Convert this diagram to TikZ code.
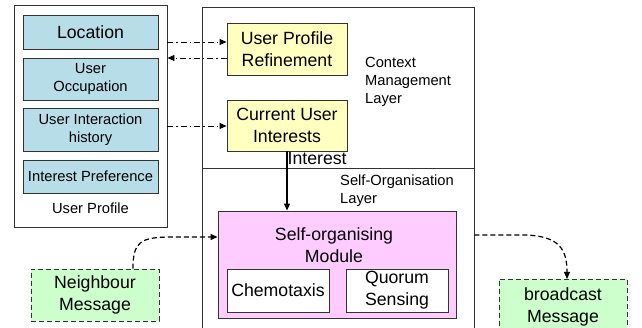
\documentclass[tikz,border=0pt]{standalone}
\usepackage{fontspec}
\setmainfont{Liberation Sans}
\usetikzlibrary{arrows.meta}
\definecolor{tealfill}{HTML}{B7DDE8}
\definecolor{yelfill}{HTML}{FFFFC0}
\definecolor{magfill}{HTML}{FFCCFF}
\definecolor{grnfill}{HTML}{CCFFCC}
\definecolor{edgecol}{HTML}{333333}
\begin{document}
\begin{tikzpicture}[x=1pt,y=-1pt,
  box/.style={draw=edgecol, line width=0.9pt, inner sep=0pt, align=center},
  bigtxt/.style={font=\fontsize{17.7}{22}\selectfont},
  smalltxt/.style={font=\fontsize{14.7}{18}\selectfont},
  tealbox/.style={box, smalltxt, fill=tealfill, minimum width=135pt},
  yelbox/.style={box, bigtxt, fill=yelfill, minimum width=120pt},
  subbox/.style={box, bigtxt, fill=white, minimum width=102pt, minimum height=43pt},
  dsh/.style={dash pattern=on 5pt off 3pt},
  msgbox/.style={box, bigtxt, fill=grnfill, dsh, minimum width=128pt},
  layerbox/.style={draw=edgecol, line width=0.9pt, inner sep=0pt, minimum width=272pt},
  plain/.style={inner sep=0pt, align=left},
  tip/.style={-{Triangle[length=7pt,width=6pt]}},
  conn/.style={draw=black, line width=1.2pt},
  dashdot/.style={line width=0.9pt, dash pattern=on 6pt off 3pt on 1.5pt off 3pt}
]
\useasboundingbox (0,0) rectangle (642,328);
\clip (0,0) rectangle (642,328);
\fill[white] (0,0) rectangle (642,328);

% User profile
\node[box, minimum width=153pt, minimum height=222pt] (up) at (90.5,116) {};
\node[tealbox, bigtxt, minimum height=34pt] (loc) at (90.5,32) {Location};
\node[tealbox, minimum height=42pt] (occ) at (90.5,79) {User\\Occupation};
\node[tealbox, minimum height=43pt] (hist) at (90.5,129.5) {User Interaction\\history};
\node[tealbox, minimum height=33pt] (pref) at (90.5,176.5) {Interest Preference};
\node[plain, smalltxt] (uplbl) at (90.5,208) {User Profile};

% Layers
\node[layerbox, minimum height=161pt] (ctx) at (338,87.5) {};
\node[layerbox, minimum height=172pt] (sol) at (338,254) {};
\node[plain, smalltxt, anchor=west] (ctxlbl) at (365,82) {Context\\Management\\Layer};
\node[plain, smalltxt, anchor=west] (sollbl) at (340,191) {Self-Organisation\\Layer};

\node[yelbox, minimum height=52pt] (urp) at (287,49) {User Profile\\Refinement};
\node[yelbox, minimum height=51pt] (cui) at (287,125.5) {Current User\\Interests};

\node[box, fill=magfill, minimum width=238pt, minimum height=107pt] (som) at (337,264.5) {};
\node[plain, bigtxt, align=center] (somlbl) at (334,245) {Self-organising\\Module};
\node[subbox] (chem) at (278,290.5) {Chemotaxis};
\node[subbox] (quo) at (397,290.5) {Quorum\\Sensing};

\node[msgbox, minimum height=52pt] (nb) at (95,295) {Neighbour\\Message};
\node[msgbox, minimum height=54pt, anchor=north] (bc) at (563,279) {broadcast\\Message};

% connectors
\draw[conn, dashdot, tip] (up.east |- 0,42) -- (urp.west |- 0,42);
\draw[conn, dashdot, tip] (urp.west |- 0,58) -- (up.east |- 0,58);
\draw[conn, dashdot, tip] (up.east |- 0,126) -- (cui.west |- 0,126);
\draw[conn, tip] (cui.south) -- (cui.south |- som.north)
  node[pos=0.12, right=0pt, plain, bigtxt] (intlbl) {Interest};
\draw[conn, dsh, tip] (nb.north -| 133,0) .. controls (133,242) and (140,237) .. (172,237) -- (som.west |- 0,237);
\draw[conn, dsh, tip] (sol.east |- 0,235) -- (525,235) .. controls (560,236) and (567,250) .. (bc.north -| 567,0);
\end{tikzpicture}
\end{document}
